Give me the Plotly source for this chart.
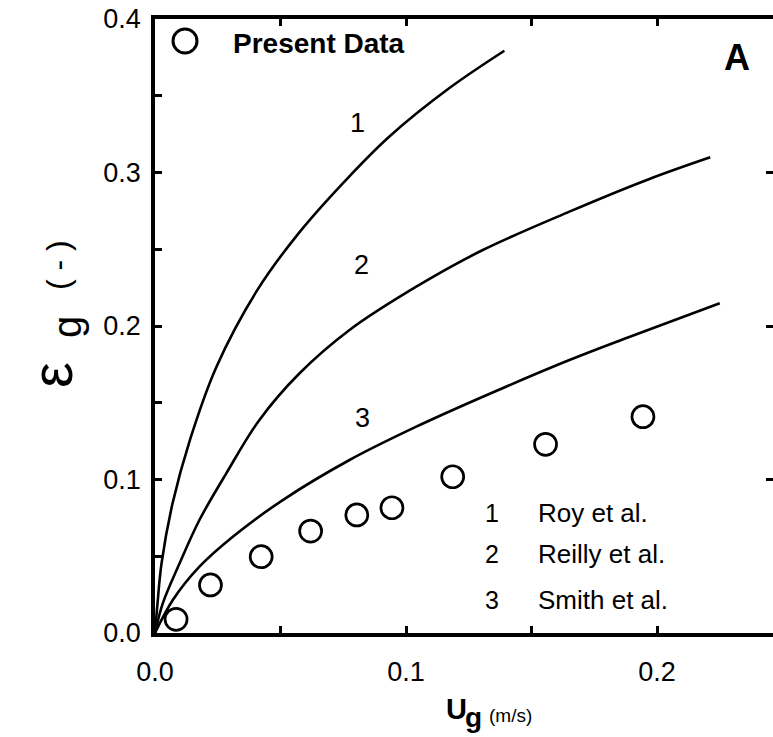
import plotly.graph_objects as go

# ---------------- data ----------------
ug_data = [0.0084, 0.0221, 0.0423, 0.0620, 0.0804, 0.0944, 0.1186, 0.1556, 0.1944]
eg_data = [0.0089, 0.0313, 0.0497, 0.0664, 0.0769, 0.0816, 0.1018, 0.1229, 0.1409]

roy_ug = [0, 0.0010, 0.0026, 0.0070, 0.0139, 0.0245, 0.0408, 0.0576, 0.0783, 0.0934, 0.1173, 0.1392]
roy_eg = [0, 0.0193, 0.0454, 0.0845, 0.1257, 0.1735, 0.2235, 0.2612, 0.2990, 0.3235, 0.3550, 0.3793]

reilly_ug = [0, 0.0031, 0.0098, 0.0177, 0.0284, 0.0416, 0.0576, 0.0775, 0.1041, 0.1306, 0.1651, 0.1970, 0.2212]
reilly_eg = [0, 0.0193, 0.0454, 0.0736, 0.1040, 0.1388, 0.1692, 0.1974, 0.2256, 0.2495, 0.2745, 0.2958, 0.3099]

smith_ug = [0, 0.0071, 0.0177, 0.0310, 0.0509, 0.0775, 0.1041, 0.1306, 0.1651, 0.1884, 0.2250]
smith_eg = [0, 0.0215, 0.0432, 0.0627, 0.0866, 0.1127, 0.1344, 0.1539, 0.1778, 0.1925, 0.2148]

curve_labels = ["1", "2", "3"]
legend_names = ["Roy et al.", "Reilly et al.", "Smith et al."]

x_tickvals = [0, 0.05, 0.1, 0.15, 0.2]
x_ticktext = ["0.0", "", "0.1", "", "0.2"]
y_tickvals = [0, 0.05, 0.1, 0.15, 0.2, 0.25, 0.3, 0.35, 0.4]
y_ticktext = ["0.0", "", "0.1", "", "0.2", "", "0.3", "", "0.4"]

# ---------------- layout geometry ----------------
W, H = 773, 737
L, R, T, B = 155, 0, 19, 104
PW, PH = W - L - R, H - T - B
FONT = "Liberation Sans, Arial, sans-serif"


def px(xp):
    return (xp - L) / PW


def py(yp):
    return (H - B - yp) / PH


fig = go.Figure()

line_style = dict(color="black", width=2.6, shape="spline", smoothing=1.0)
for xs, ys in [(roy_ug, roy_eg), (reilly_ug, reilly_eg), (smith_ug, smith_eg)]:
    fig.add_trace(go.Scatter(x=xs, y=ys, mode="lines", line=line_style,
                             showlegend=False, hoverinfo="skip"))

fig.add_trace(go.Scatter(
    x=ug_data, y=eg_data, mode="markers", name="Present Data", showlegend=False,
    marker=dict(symbol="circle-open", size=22, color="black", line=dict(width=2.7)),
    cliponaxis=False))

# empty trace for right-side tick marks
fig.add_trace(go.Scatter(x=[], y=[], yaxis="y2", showlegend=False))

annotations = []


def ann(text, xp, yp, size, bold=False, xanchor="center", angle=0):
    t = f"<b>{text}</b>" if bold else text
    annotations.append(dict(text=t, x=px(xp), y=py(yp), xref="paper", yref="paper",
                            showarrow=False, xanchor=xanchor, yanchor="middle",
                            textangle=angle,
                            font=dict(family=FONT, size=size, color="black")))


# legend block (top-left)
ann("Present Data", 231, 43, 28, bold=True, xanchor="left")
# panel letter
ann("A", 737, 57, 36, bold=True)
# curve numbers
for lab, (xp, yp) in zip(curve_labels, [(357, 123), (361, 265), (362, 418)]):
    ann(lab, xp, yp, 27)
# correlation legend
for lab, name, yp in zip(curve_labels, legend_names, [513, 554, 600]):
    ann(lab, 492, yp, 25)
    ann(name, 536, yp, 26, xanchor="left")

# x-axis title
ann("U", 456, 709, 29, bold=True)
ann("g", 473, 717, 28, bold=True)
ann("(m/s)", 487, 715, 19, xanchor="left")

# y-axis title (rotated)
ann("ε", 51, 375, 58, angle=-90)
ann("g", 67, 327, 40, angle=-90)
ann("(\u00a0-\u00a0)", 58, 265, 32, angle=-90)

shapes = [dict(type="circle", xref="paper", yref="paper",
               xsizemode="pixel", ysizemode="pixel",
               xanchor=px(185), yanchor=py(41),
               x0=-12, x1=12, y0=-12, y1=12,
               line=dict(color="black", width=3))]

fig.update_layout(
    width=W, height=H,
    margin=dict(l=L, r=R, t=T, b=B, pad=0),
    paper_bgcolor="white", plot_bgcolor="white",
    showlegend=False,
    annotations=annotations,
    shapes=shapes,
    xaxis=dict(range=[0, (W - L - R) / 2510], tickvals=x_tickvals, ticktext=x_ticktext,
               ticks="inside", ticklen=7, tickwidth=2.5, tickcolor="black",
               showline=True, linewidth=3.5, linecolor="black", mirror="ticks",
               showgrid=False, zeroline=False, ticklabelstandoff=12,
               tickfont=dict(family=FONT, size=27, color="black")),
    yaxis=dict(range=[0, 0.4], tickvals=y_tickvals, ticktext=y_ticktext,
               ticks="inside", ticklen=7, tickwidth=2.5, tickcolor="black",
               showline=True, linewidth=3.5, linecolor="black",
               showgrid=False, zeroline=False, ticklabelstandoff=5,
               tickfont=dict(family=FONT, size=27, color="black")),
    yaxis2=dict(range=[0, 0.4], overlaying="y", side="right",
                tickvals=[0.1, 0.2, 0.3], ticks="inside", ticklen=7, tickwidth=2.5,
                tickcolor="black", showticklabels=False, showline=False,
                showgrid=False, zeroline=False),
)

fig.write_html("out.html")
